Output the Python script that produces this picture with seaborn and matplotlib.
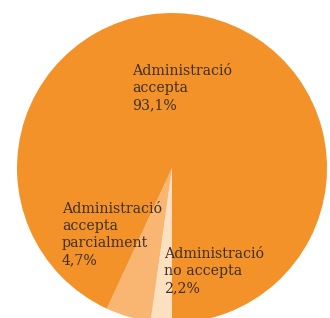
import matplotlib
matplotlib.use("Agg")
import matplotlib.pyplot as plt
import seaborn as sns

sns.set_theme(style="white")
plt.rcParams['font.family'] = ['DejaVu Serif']

# data (clockwise from straight down)
labels = ['Administració\nno accepta\n2,2%',
          'Administració\naccepta\nparcialment\n4,7%',
          'Administració\naccepta\n93,1%']
values = [2.2, 4.7, 93.1]
colors = ['#FDE0C0', '#F9B673', '#F39229']
# label anchor (top-left), pie units
label_pos = [(-0.05, -0.51), (-0.71, -0.22), (-0.255, 0.67)]

fig = plt.figure(figsize=(3.3, 3.18), dpi=100)
ax = fig.add_axes([17 / 330, -5 / 318, 310 / 330, 310 / 318])

ax.pie(values, colors=colors, startangle=270, counterclock=False,
       radius=1, wedgeprops=dict(linewidth=0))

for lab, (x, y) in zip(labels, label_pos):
    ax.text(x, y, lab, ha='left', va='top', fontsize=10.2,
            color='#3C3028', linespacing=1.28)

ax.set_xlim(-1, 1)
ax.set_ylim(-1, 1)
ax.set_aspect('equal')
ax.axis('off')

fig.savefig('out.png', dpi=100)
